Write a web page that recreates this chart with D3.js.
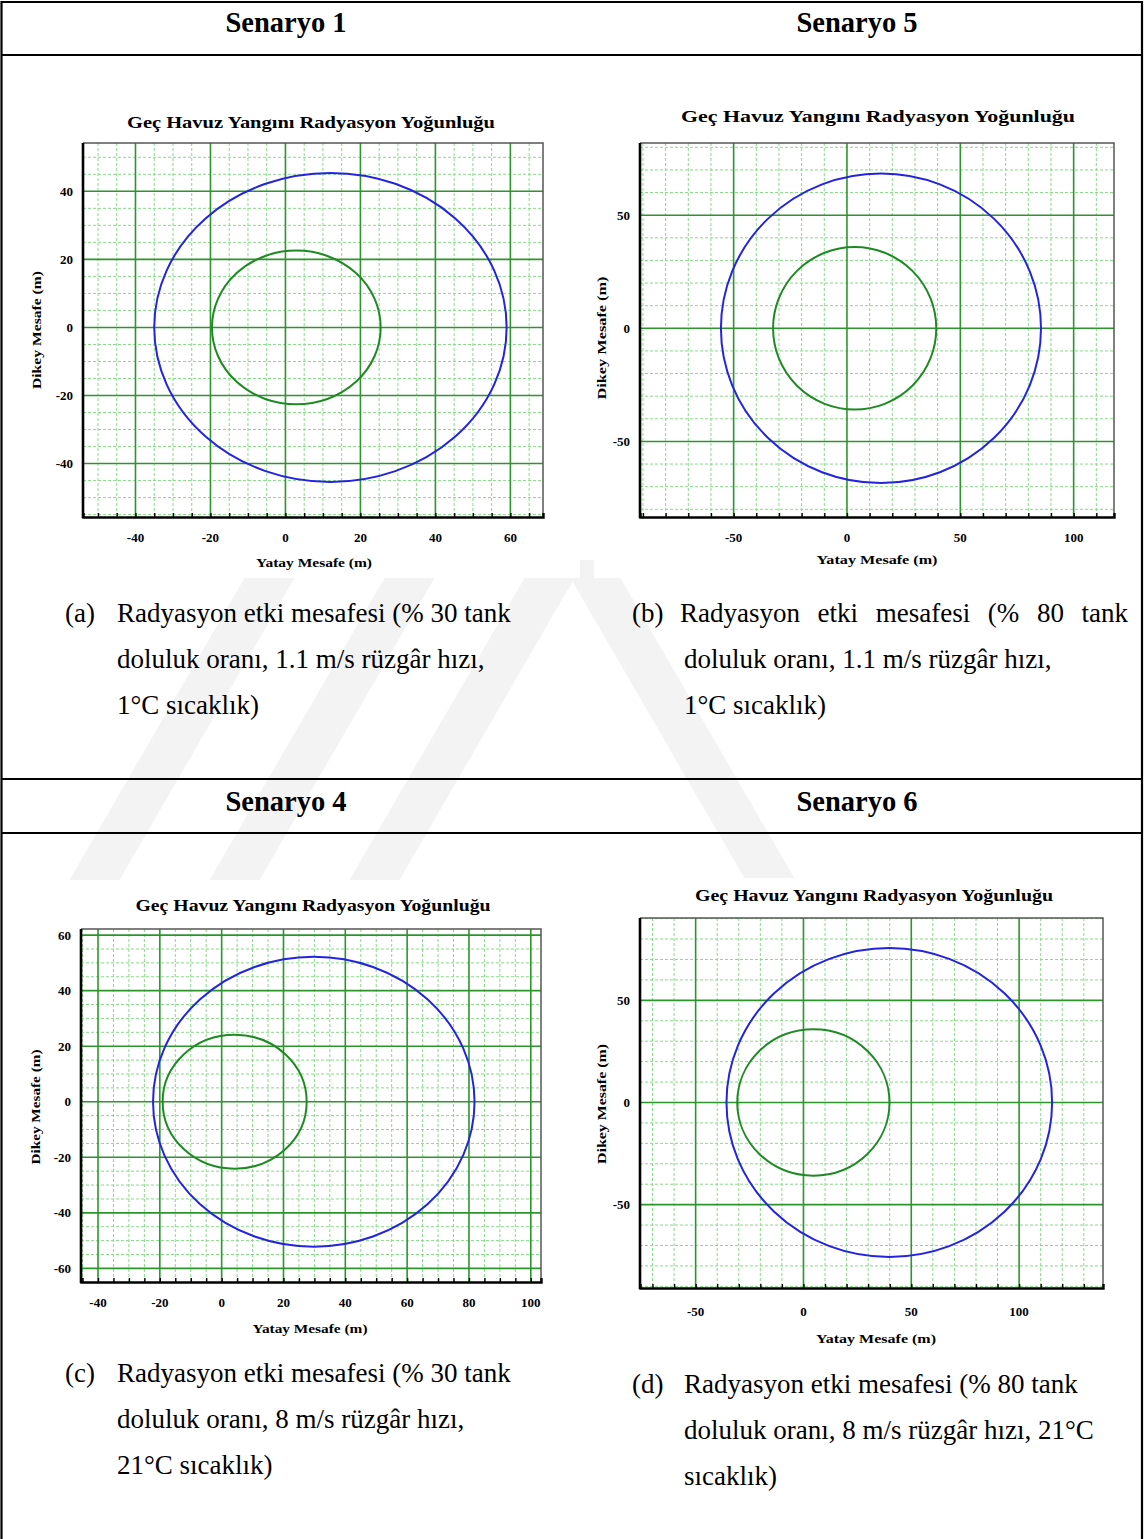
<!DOCTYPE html>
<html>
<head>
<meta charset="utf-8">
<script src="https://cdn.jsdelivr.net/npm/d3@7"></script>
<style>
  body { margin: 0; background: #fff; }
  svg { display: block; }
  text { font-family: "Liberation Serif", "Times New Roman", serif; fill: #000; }
</style>
</head>
<body>
<svg id="page" width="1145" height="1539"></svg>
<script>
// ---- values ----
var scenarioTitles = ["Senaryo 1", "Senaryo 5", "Senaryo 4", "Senaryo 6"];
var chartTitle = "Geç Havuz Yangını Radyasyon Yoğunluğu";
var xAxisTitle = "Yatay  Mesafe  (m)";
var yAxisTitle = "Dikey  Mesafe  (m)";

var xDomains = [[-54, 68.7], [-91.3, 117.8], [-45.5, 103.3], [-75.8, 138.9]];
var yDomains = [[-55.7, 54.2], [-83.4, 81.9], [-64.9, 62.2], [-90.8, 90.3]];
var xTickValues = [[-40, -20, 0, 20, 40, 60], [-50, 0, 50, 100], [-40, -20, 0, 20, 40, 60, 80, 100], [-50, 0, 50, 100]];
var yTickValues = [[-40, -20, 0, 20, 40], [-50, 0, 50], [-60, -40, -20, 0, 20, 40, 60], [-50, 0, 50]];
var minorStep = [5, 10, 5, 10];

// threat zones: centre on the x axis, half-width along x and y (m)
var blueCenterX = [12, 15, 29.8, 39.8];
var blueRadiusX = [47, 70.6, 52, 75.5];
var blueRadiusY = [45.4, 68.4, 52.2, 75.6];
var greenCenterX = [2.9, 3.4, 4.2, 4.6];
var greenRadiusX = [22.5, 36, 23.3, 35.3];
var greenRadiusY = [22.6, 35.9, 24.1, 35.8];

var captionLabels = ["(a)", "(b)", "(c)", "(d)"];
var captionLines = [
  ["Radyasyon etki mesafesi (% 30 tank", "doluluk oranı, 1.1 m/s rüzgâr hızı,", "1°C sıcaklık)"],
  ["Radyasyon etki mesafesi (% 80 tank", "doluluk oranı, 1.1 m/s rüzgâr hızı,", "1°C sıcaklık)"],
  ["Radyasyon etki mesafesi (% 30 tank", "doluluk oranı, 8 m/s rüzgâr hızı,", "21°C sıcaklık)"],
  ["Radyasyon etki mesafesi (% 80 tank", "doluluk oranı, 8 m/s rüzgâr hızı, 21°C", "sıcaklık)"]
];

// ---- layout ----
var panels = [
  {left: 83, right: 543, top: 143, bottom: 517, img: [22, 96, 558, 482], titleX: 311, titleY: 128, titleW: 368,
   xtX: 314, xtY: 567, xtW: 116, ytX: 41, ytY: 330, ytW: 118, tickY: 25, capX: 65, capY: 622, justify: false},
  {left: 640, right: 1114, top: 143, bottom: 517, img: [594, 92, 546, 486], titleX: 878, titleY: 122, titleW: 394,
   xtX: 877, xtY: 564, xtW: 121, ytX: 606, ytY: 338, ytW: 123, tickY: 25, capX: 632, capY: 622, justify: true},
  {left: 81, right: 541, top: 929, bottom: 1282, img: [20, 880, 526, 465], titleX: 313, titleY: 911, titleW: 355,
   xtX: 310, xtY: 1333, xtW: 115, ytX: 40, ytY: 1107, ytW: 115, tickY: 25, capX: 65, capY: 1382, justify: false},
  {left: 640, right: 1103, top: 918, bottom: 1288, img: [582, 878, 558, 474], titleX: 874, titleY: 901, titleW: 358,
   xtX: 876, xtY: 1343, xtW: 120, ytX: 606, ytY: 1104, ytW: 120, tickY: 28, capX: 632, capY: 1393, justify: false}
];
var headerX = [286, 857, 286, 857];
var headerY = [32, 32, 811, 811];

var svg = d3.select("#page");

// faint watermark behind the table
var watermark = [
  [[255, 560], [305, 560], [105, 905], [55, 905]],
  [[395, 560], [445, 560], [245, 905], [195, 905]],
  [[535, 560], [585, 560], [385, 905], [335, 905]],
  [[560, 560], [610, 560], [810, 905], [760, 905]]
];
svg.append("g").selectAll("polygon")
  .data(watermark)
  .enter().append("polygon")
  .attr("points", function(d) { return d.map(function(p) { return p.join(","); }).join(" "); })
  .attr("fill", "#f3f3f3");

// table rules
var table = svg.append("g").attr("stroke", "#000").attr("stroke-width", 2.2);
[2, 55, 779, 833].forEach(function(y) {
  table.append("line").attr("x1", 1).attr("x2", 1143).attr("y1", y).attr("y2", y);
});
[1.5, 1142].forEach(function(x) {
  table.append("line").attr("x1", x).attr("x2", x).attr("y1", 1).attr("y2", 1539);
});

svg.append("g").selectAll("text")
  .data(scenarioTitles)
  .enter().append("text")
  .attr("x", function(d, i) { return headerX[i]; })
  .attr("y", function(d, i) { return headerY[i]; })
  .attr("text-anchor", "middle")
  .style("font-size", "28.5px")
  .style("font-weight", "bold")
  .text(function(d) { return d; });

panels.forEach(function(p, i) {
  var g = svg.append("g");

  // white screenshot background
  g.append("rect")
    .attr("x", p.img[0]).attr("y", p.img[1])
    .attr("width", p.img[2]).attr("height", p.img[3])
    .attr("fill", "#fff");

  var x = d3.scaleLinear().domain(xDomains[i]).range([p.left, p.right]);
  var y = d3.scaleLinear().domain(yDomains[i]).range([p.bottom, p.top]);

  var step = minorStep[i];
  var xMinor = d3.range(Math.ceil(xDomains[i][0] / step) * step, xDomains[i][1], step)
    .filter(function(v) { return xTickValues[i].indexOf(v) < 0; });
  var yMinor = d3.range(Math.ceil(yDomains[i][0] / step) * step, yDomains[i][1], step)
    .filter(function(v) { return yTickValues[i].indexOf(v) < 0; });

  // minor grid
  var minor = g.append("g").attr("stroke", "#86dc86").attr("stroke-width", 1).attr("stroke-dasharray", "3,2");
  minor.selectAll(".vx").data(xMinor).enter().append("line")
    .attr("x1", function(d) { return x(d); }).attr("x2", function(d) { return x(d); })
    .attr("y1", p.top).attr("y2", p.bottom);
  minor.selectAll(".hy").data(yMinor).enter().append("line")
    .attr("y1", function(d) { return y(d); }).attr("y2", function(d) { return y(d); })
    .attr("x1", p.left).attr("x2", p.right);

  // major grid
  var major = g.append("g").attr("stroke", "#2c962c").attr("stroke-width", 1.6);
  major.selectAll(".vx").data(xTickValues[i]).enter().append("line")
    .attr("x1", function(d) { return x(d); }).attr("x2", function(d) { return x(d); })
    .attr("y1", p.top).attr("y2", p.bottom);
  major.selectAll(".hy").data(yTickValues[i]).enter().append("line")
    .attr("y1", function(d) { return y(d); }).attr("y2", function(d) { return y(d); })
    .attr("x1", p.left).attr("x2", p.right);

  // threat zones
  g.append("ellipse")
    .attr("cx", x(greenCenterX[i])).attr("cy", y(0))
    .attr("rx", x(greenCenterX[i] + greenRadiusX[i]) - x(greenCenterX[i]))
    .attr("ry", y(0) - y(greenRadiusY[i]))
    .attr("fill", "none").attr("stroke", "#1f8a24").attr("stroke-width", 2);
  g.append("ellipse")
    .attr("cx", x(blueCenterX[i])).attr("cy", y(0))
    .attr("rx", x(blueCenterX[i] + blueRadiusX[i]) - x(blueCenterX[i]))
    .attr("ry", y(0) - y(blueRadiusY[i]))
    .attr("fill", "none").attr("stroke", "#2323e0").attr("stroke-width", 2);

  // frame: grey top/right, black axes
  g.append("path")
    .attr("d", "M" + p.left + "," + p.top + "H" + p.right + "V" + p.bottom)
    .attr("fill", "none").attr("stroke", "#555").attr("stroke-width", 1.5);
  var xAxis = d3.axisBottom(x).tickValues(xTickValues[i].concat(xMinor)).tickSize(-4).tickFormat("");
  g.append("g").attr("transform", "translate(0," + p.bottom + ")").call(xAxis)
    .call(function(a) {
      a.select(".domain").attr("stroke", "#000").attr("stroke-width", 2.4);
      a.selectAll(".tick line").attr("stroke", "#000").attr("stroke-width", 1.4);
    });
  g.append("line")
    .attr("x1", p.left).attr("x2", p.left).attr("y1", p.top).attr("y2", p.bottom + 1)
    .attr("stroke", "#000").attr("stroke-width", 2.6);

  // tick labels
  g.append("g").selectAll("text").data(xTickValues[i]).enter().append("text")
    .attr("x", function(d) { return x(d); })
    .attr("y", p.bottom + p.tickY)
    .attr("text-anchor", "middle")
    .style("font-size", "13px").style("font-weight", "bold")
    .text(function(d) { return d; });
  g.append("g").selectAll("text").data(yTickValues[i]).enter().append("text")
    .attr("x", p.left - 10)
    .attr("y", function(d) { return y(d); })
    .attr("dy", "0.35em")
    .attr("text-anchor", "end")
    .style("font-size", "13px").style("font-weight", "bold")
    .text(function(d) { return d; });

  // titles
  g.append("text")
    .attr("x", p.titleX).attr("y", p.titleY)
    .attr("text-anchor", "middle")
    .attr("textLength", p.titleW).attr("lengthAdjust", "spacingAndGlyphs")
    .style("font-size", "16.5px").style("font-weight", "bold")
    .text(chartTitle);
  g.append("text")
    .attr("x", p.xtX).attr("y", p.xtY)
    .attr("text-anchor", "middle")
    .attr("textLength", p.xtW).attr("lengthAdjust", "spacingAndGlyphs")
    .style("font-size", "13.5px").style("font-weight", "bold")
    .text(xAxisTitle);
  g.append("text")
    .attr("transform", "translate(" + p.ytX + "," + p.ytY + ") rotate(-90)")
    .attr("text-anchor", "middle")
    .attr("textLength", p.ytW).attr("lengthAdjust", "spacingAndGlyphs")
    .style("font-size", "13.5px").style("font-weight", "bold")
    .text(yAxisTitle);

  // caption
  var cap = svg.append("g").style("font-size", "27px");
  cap.append("text").attr("x", p.capX).attr("y", p.capY).text(captionLabels[i]);
  captionLines[i].forEach(function(line, k) {
    var ly = p.capY + k * 46;
    if (p.justify && k === 0) {
      var words = line.split(" ");
      var widths = words.map(function(w) {
        var t = cap.append("text").text(w);
        var wd = t.node().getComputedTextLength();
        t.remove();
        return wd;
      });
      var gap = (1128 - (p.capX + 48) - d3.sum(widths)) / (words.length - 1);
      var cx = p.capX + 48;
      words.forEach(function(w, j) {
        cap.append("text").attr("x", cx).attr("y", ly).text(w);
        cx += widths[j] + gap;
      });
    } else {
      cap.append("text").attr("x", p.capX + 52).attr("y", ly).text(line);
    }
  });
});
</script>
</body>
</html>
